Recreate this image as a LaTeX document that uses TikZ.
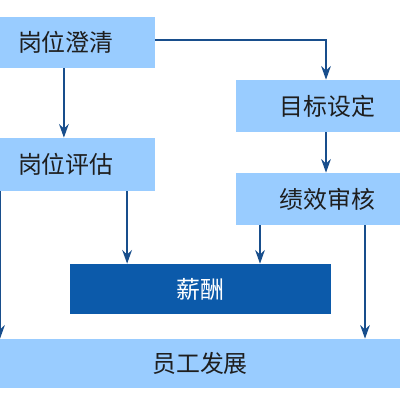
\documentclass[tikz,border=0pt]{standalone}
\usepackage{fontspec}
\setmainfont{Noto Sans CJK SC}
\usepackage{xcolor}
\usepackage{tikz}
\usetikzlibrary{arrows.meta,positioning,calc}
\definecolor{boxlight}{RGB}{153,204,255}
\definecolor{boxdark}{RGB}{12,90,170}
\definecolor{arrowblue}{RGB}{24,78,140}
\definecolor{txtgray}{RGB}{30,30,30}

\begin{document}
\begin{tikzpicture}[
  every node/.style={font=\fontsize{17}{20}\selectfont, inner sep=0pt},
  ar/.style={-{Stealth[length=3.4mm,width=2.4mm]}, line width=1.9pt, draw=arrowblue},
  lbox/.style={fill=boxlight, text=txtgray},
  leftbox/.style={lbox, align=left, inner xsep=4.5mm, text width=2.975cm},
  rightbox/.style={lbox, align=right, inner xsep=6.25mm, text width=2.85cm},
  dbox/.style={fill=boxdark, text=white}
]
\useasboundingbox (0,0) rectangle (10,10);
\node[leftbox, minimum height=1.275cm] (C) at (1.9375,8.9375) {岗位澄清};
\node[leftbox, minimum height=1.325cm] (E) at (1.9375,5.8875) {岗位评估};
\node[rightbox, minimum height=1.3cm] (G) at (7.95,7.35) {目标设定};
\node[rightbox, minimum height=1.3cm] (R) at (7.95,5.025) {绩效审核};
\node[dbox, minimum width=6.525cm, minimum height=1.25cm] (P) at (5.0125,2.775) {薪酬};
\node[lbox, minimum width=10cm, minimum height=1.225cm] (D) at (5,0.9125) {员工发展};
\coordinate (c1) at ([xshift=-3.4mm]C.south);
\coordinate (e0) at ([xshift=-19.375mm]E.south);
\coordinate (e1) at ([xshift=12.4mm]E.south);
\coordinate (g1) at ([xshift=2mm]G.north);
\coordinate (r1) at ([xshift=-14.5mm]R.south);
\coordinate (r2) at ([xshift=11.75mm]R.south);
\draw[ar] (c1) -- (c1 |- E.north);
\draw[ar] ([yshift=0.6mm]C.east) -| (g1);
\draw[ar] ([xshift=2mm]G.south) -- ([xshift=2mm]R.north);
\draw[ar] (e1) -- (e1 |- P.north);
\draw[ar] (r1) -- (r1 |- P.north);
\draw[ar] (r2) -- (r2 |- D.north);
\draw[ar] (e0) -- (e0 |- D.north);
\end{tikzpicture}
\end{document}
